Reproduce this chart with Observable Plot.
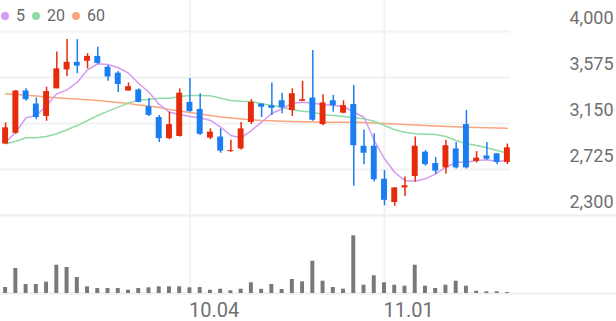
<!DOCTYPE html>
<html>
<head>
<meta charset="utf-8">
<script src="https://cdn.jsdelivr.net/npm/d3@7"></script>
<script src="https://cdn.jsdelivr.net/npm/@observablehq/plot@0.6"></script>
<style>
  html, body { margin: 0; padding: 0; background: #fff; }
  #wrap { position: relative; width: 616px; height: 321px; font-family: Roboto, sans-serif; }
  #legend { position: absolute; left: 1px; top: 6px; height: 19px; display: flex; align-items: center; font-size: 16px; color: #666; z-index: 2; }
  #legend .dot { display: inline-block; width: 8px; height: 8px; border-radius: 50%; margin-right: 7px; }
  #legend .item { display: flex; align-items: center; margin-right: 7px; }
  svg { display: block; }
</style>
</head>
<body>
<div id="wrap"><div id="legend"></div><div id="price"></div><div id="vol"></div></div>
<script>
const dates = [
  "2022-09-05","2022-09-06","2022-09-07","2022-09-08","2022-09-13","2022-09-14","2022-09-15","2022-09-16",
  "2022-09-19","2022-09-20","2022-09-21","2022-09-22","2022-09-23","2022-09-26","2022-09-27","2022-09-28",
  "2022-09-29","2022-09-30","2022-10-04","2022-10-05","2022-10-06","2022-10-07","2022-10-11","2022-10-12",
  "2022-10-13","2022-10-14","2022-10-17","2022-10-18","2022-10-19","2022-10-20","2022-10-21","2022-10-24",
  "2022-10-25","2022-10-26","2022-10-27","2022-10-28","2022-10-31","2022-11-01","2022-11-02","2022-11-03",
  "2022-11-04","2022-11-07","2022-11-08","2022-11-09","2022-11-10","2022-11-11","2022-11-14","2022-11-15",
  "2022-11-16","2022-11-17"
];
const openP  = [2960,3060,3450,3330,3215,3470,3645,3715,3725,3770,3670,3615,3450,3460,3305,3205,3010,3030,3345,3280,3015,3025,2890,2915,3160,3330,3315,3360,3270,3355,3385,3140,3360,3245,3325,2940,2940,2635,2420,2555,2660,2885,2780,2740,2915,3140,2800,2850,2870,2790];
const highP  = [3155,3455,3470,3385,3485,3810,3925,3925,3795,3855,3685,3630,3525,3470,3380,3225,3255,3470,3565,3425,3100,3100,2995,3160,3370,3330,3525,3430,3470,3540,3825,3415,3410,3360,3500,3090,3055,2715,2555,2655,3025,2900,2835,2995,2975,3270,2890,2975,2870,2960];
const lowP   = [2960,3050,3355,3185,3170,3470,3585,3610,3655,3700,3540,3435,3450,3340,3215,2975,3000,3025,3255,3040,3000,2875,2885,2905,3140,3205,3225,3240,3215,3355,3170,3130,3255,3240,2570,2770,2610,2390,2385,2475,2610,2755,2680,2680,2730,2730,2785,2810,2770,2770];
const closeP = [3110,3450,3370,3205,3445,3655,3715,3680,3770,3705,3580,3510,3490,3345,3225,3010,3140,3430,3260,3050,3070,2895,2900,3100,3345,3300,3290,3295,3425,3370,3180,3340,3315,3315,2945,2875,2630,2440,2555,2575,2940,2770,2710,2945,2740,2740,2830,2820,2790,2925];
const volume = [60000,250000,90000,90000,113000,283000,260000,160000,67000,50000,50000,50000,33000,50000,57000,67000,67000,67000,57000,60000,33000,43000,27000,43000,107000,42000,90000,40000,140000,117000,323000,123000,60000,43000,577000,83000,177000,107000,83000,73000,283000,73000,50000,83000,123000,73000,23000,17000,17000,10000];
const ma5  = [2977,3070,3203,3224,3316,3424,3461,3532,3646,3702,3695,3665,3615,3520,3439,3326,3254,3233,3215,3203,3178,3116,3039,3018,3085,3162,3245,3286,3338,3347,3338,3326,3316,3307,3254,3208,2993,2824,2697,2623,2617,2639,2685,2746,2792,2792,2808,2815,2799,2808];
const ma20 = [2962,2986,3018,3018,3030,3055,3092,3131,3178,3224,3264,3301,3338,3367,3372,3384,3384,3399,3409,3409,3406,3384,3362,3356,3353,3332,3316,3301,3277,3264,3254,3233,3224,3215,3203,3193,3171,3131,3092,3070,3055,3051,3048,3030,2993,2962,2947,2925,2901,2876];
const ma60 = [3424,3418,3411,3404,3395,3387,3381,3376,3370,3362,3353,3344,3335,3321,3312,3298,3279,3265,3252,3238,3224,3210,3201,3192,3184,3178,3175,3171,3168,3166,3164,3162,3162,3162,3162,3159,3155,3150,3145,3141,3136,3131,3127,3122,3119,3116,3113,3110,3108,3107];
const yTicks = [2300, 2725, 3150, 3575, 4000];
const xTickDates = ["2022-10-04", "2022-11-01"];
const xTickLabels = ["10.04", "11.01"];
const maNames = ["5", "20", "60"];

const RED = "#e62b0c", BLUE = "#1b7ef0";
const maColors = ["#d49bf0", "#92dba5", "#f8a67e"];
const GRID = "#f2f2f2";

const data = dates.map((date, i) => ({
  date, open: openP[i], high: highP[i], low: lowP[i], close: closeP[i],
  vol: volume[i], ma5: ma5[i], ma20: ma20[i], ma60: ma60[i],
  dir: closeP[i] >= openP[i] ? "up" : "down"
}));

const xScale = {type: "band", domain: dates, paddingInner: 0.42, paddingOuter: 0.21, round: false, axis: null};
const colorScale = {domain: ["up", "down"], range: [RED, BLUE]};

const price = Plot.plot({
  width: 616, height: 218,
  marginLeft: 0, marginRight: 104, marginTop: 31, marginBottom: 3,
  style: {fontFamily: "Roboto, sans-serif", background: "transparent"},
  x: xScale,
  y: {domain: [2300, 4000], axis: null},
  color: colorScale,
  marks: [
    Plot.ruleY(yTicks.slice(1), {y: d => d, stroke: GRID, strokeWidth: 2, insetRight: 2}),
    Plot.ruleY([yTicks[0]], {y: d => d, stroke: "#eeeeee", strokeWidth: 2, insetRight: -104}),
    Plot.ruleX(xTickDates, {x: d => d, stroke: GRID, strokeWidth: 2, insetTop: -31, insetBottom: -3}),
    Plot.axisY(yTicks, {anchor: "right", tickSize: 0, tickPadding: 0, textAnchor: "end", dx: 101, dy: -13,
      fontSize: 18, fill: "#707070", tickFormat: d3.format(","), style: {letterSpacing: "1px"}}),
    Plot.lineY(data, {x: "date", y: "ma60", stroke: maColors[2], strokeWidth: 1.5}),
    Plot.lineY(data, {x: "date", y: "ma20", stroke: maColors[1], strokeWidth: 1.5}),
    Plot.lineY(data, {x: "date", y: "ma5", stroke: maColors[0], strokeWidth: 1.5}),
    Plot.ruleX(data, {x: "date", y1: "low", y2: "high", stroke: "dir", strokeWidth: 1.5}),
    Plot.barY(data, {x: "date", y1: "open", y2: "close", fill: "dir"})
  ]
});
document.getElementById("price").append(price);

const vol = Plot.plot({
  width: 616, height: 103,
  marginLeft: 0, marginRight: 104, marginTop: 5, marginBottom: 28,
  style: {fontFamily: "Roboto, sans-serif", background: "transparent"},
  x: xScale,
  y: {domain: [0, 700000], axis: null},
  marks: [
    Plot.ruleX(xTickDates, {x: d => d, stroke: GRID, strokeWidth: 2, insetTop: -5}),
    Plot.ruleY([0], {stroke: "#eeeeee", strokeWidth: 2, insetRight: -104}),
    Plot.barY(data, {x: "date", y: "vol", fill: "#787878", insetLeft: 1, insetRight: 1}),
    Plot.text(xTickDates, {x: d => d, text: (d, i) => xTickLabels[i], frameAnchor: "bottom",
      textAnchor: "start", lineAnchor: "middle", dy: 17, dx: -1, fontSize: 20, fill: "#707070",
      style: {letterSpacing: "0.8px"}})
  ]
});
document.getElementById("vol").append(vol);

const legend = document.getElementById("legend");
maNames.forEach((n, i) => {
  const item = document.createElement("span");
  item.className = "item";
  const dot = document.createElement("span");
  dot.className = "dot";
  dot.style.background = maColors[i];
  item.append(dot, document.createTextNode(n));
  legend.append(item);
});
</script>
</body>
</html>
